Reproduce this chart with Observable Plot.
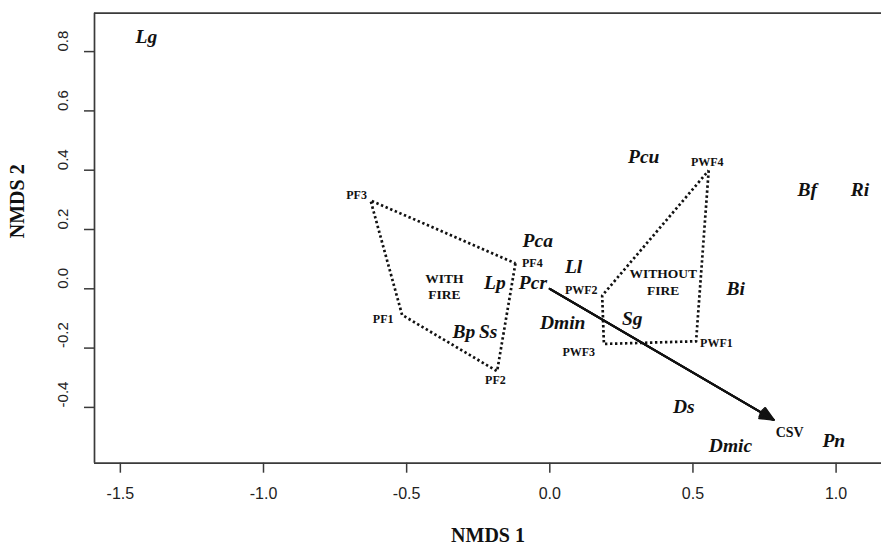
<!DOCTYPE html>
<html>
<head>
<meta charset="utf-8">
<script src="https://cdn.jsdelivr.net/npm/d3@7"></script>
<script src="https://cdn.jsdelivr.net/npm/@observablehq/plot@0.6"></script>
<style>
  html, body { margin: 0; padding: 0; background: #fff; overflow: hidden; }
</style>
</head>
<body>
<div id="chart"></div>
<script>
// Species scores (NMDS 1, NMDS 2)
const speciesNames = ["Lg","Pcu","Bf","Ri","Pca","Ll","Lp","Pcr","Bi","Sg","Dmin","Bp","Ss","Ds","Dmic","Pn"];
const speciesX = [-1.409, 0.328, 0.899, 1.083, -0.042, 0.083, -0.192, -0.059, 0.649, 0.288, 0.045, -0.300, -0.215, 0.468, 0.631, 0.992];
const speciesY = [0.849, 0.444, 0.334, 0.334, 0.163, 0.073, 0.022, 0.019, 0.000, -0.101, -0.116, -0.146, -0.146, -0.397, -0.528, -0.512];

// Site scores
const siteNames = ["PF1","PF2","PF3","PF4","PWF1","PWF2","PWF3","PWF4"];
const siteGroup = ["WITH\nFIRE","WITH\nFIRE","WITH\nFIRE","WITH\nFIRE","WITHOUT\nFIRE","WITHOUT\nFIRE","WITHOUT\nFIRE","WITHOUT\nFIRE"];
const siteX = [-0.516, -0.184, -0.626, -0.120, 0.511, 0.183, 0.189, 0.555];
const siteY = [-0.088, -0.278, 0.298, 0.086, -0.177, -0.023, -0.186, 0.399];
// Site label positions
const siteLabelX = [-0.582, -0.190, -0.675, -0.061, 0.582, 0.110, 0.101, 0.550];
const siteLabelY = [-0.101, -0.307, 0.317, 0.088, -0.185, -0.006, -0.214, 0.427];

// Group label positions
const groupNames = ["WITH\nFIRE", "WITHOUT\nFIRE"];
const groupX = [-0.368, 0.396];
const groupY = [0.011, 0.025];

// Environmental vector
const vectorName = ["CSV"];
const vectorX = [0.782];
const vectorY = [-0.442];
const vectorLabelX = [0.838];
const vectorLabelY = [-0.484];

// Axes
const xTicks = [-1.5, -1.0, -0.5, 0.0, 0.5, 1.0];
const yTicks = [-0.4, -0.2, 0.0, 0.2, 0.4, 0.6, 0.8];
const xDomain = [-1.5903, 1.1586];
const yDomain = [-0.5882, 0.9295];
const xTitle = "NMDS 1";
const yTitle = "NMDS 2";

// Build tables
const species = speciesNames.map((n, i) => ({name: n, x: speciesX[i], y: speciesY[i]}));
const sites = siteNames.map((n, i) => ({name: n, group: siteGroup[i], x: siteX[i], y: siteY[i], lx: siteLabelX[i], ly: siteLabelY[i]}));
const groups = groupNames.map((g, i) => ({name: g, x: groupX[i], y: groupY[i]}));
const vectors = vectorName.map((n, i) => ({name: n, x: vectorX[i], y: vectorY[i], lx: vectorLabelX[i], ly: vectorLabelY[i]}));

// Convex hull per group (closed path)
const hulls = [];
for (const g of groupNames) {
  const pts = sites.filter(s => s.group === g).map(s => [s.x, s.y]);
  const hull = d3.polygonHull(pts);
  hull.push(hull[0]);
  hull.forEach(p => hulls.push({group: g, x: p[0], y: p[1]}));
}

const serif = "'Liberation Serif', 'Times New Roman', serif";
const sans = "'Liberation Sans', Arial, sans-serif";
const axisColor = "#3a3a3a";

// arrow head drawn as several nested V's so it reads as a filled head
const headAngles = [12, 24, 36, 48];

const chart = Plot.plot({
  width: 881,
  height: 550,
  marginLeft: 94,
  marginRight: 0,
  marginTop: 12.7,
  marginBottom: 87.3,
  style: {background: "#fff", fontFamily: sans},
  x: {domain: xDomain, axis: null},
  y: {domain: yDomain, axis: null},
  marks: [
    // box (left, top, bottom)
    Plot.ruleY([yDomain[0], yDomain[1]], {stroke: axisColor, strokeWidth: 1.7}),
    Plot.ruleX([xDomain[0]], {stroke: axisColor, strokeWidth: 1.7}),
    // ticks
    Plot.axisX(xTicks, {tickSize: 10, tickFormat: () => "", label: null, stroke: axisColor, strokeWidth: 1.5}),
    Plot.axisY(yTicks, {tickSize: 10, tickFormat: () => "", label: null, stroke: axisColor, strokeWidth: 1.5}),
    // tick labels
    Plot.text(xTicks, {x: d => d, frameAnchor: "bottom", dy: 35.3, text: d => d.toFixed(1), fontSize: 16, fontFamily: sans, fill: "#222"}),
    Plot.text(yTicks, {y: d => d, frameAnchor: "left", dx: -31.5, rotate: -90, text: d => d.toFixed(1), fontSize: 15, fontFamily: sans, fill: "#222"}),
    // axis titles
    Plot.text([xTitle], {frameAnchor: "bottom", dy: 78.8, text: d => d, fontSize: 20, fontWeight: "bold", fontFamily: serif, fill: "#111"}),
    Plot.text([yTitle], {frameAnchor: "left", dx: -76.5, rotate: -90, text: d => d, fontSize: 20, fontWeight: "bold", fontFamily: serif, fill: "#111"}),
    // hulls
    Plot.line(hulls, {x: "x", y: "y", z: "group", stroke: "#111", strokeWidth: 2.7, strokeDasharray: "2.4,2.6", strokeLinecap: "butt"}),
    // vector
    ...headAngles.map(a => Plot.arrow(vectors, {x1: () => 0, y1: () => 0, x2: "x", y2: "y", stroke: "#111", strokeWidth: 2, headLength: 11, headAngle: a})),
    Plot.text(vectors, {x: "lx", y: "ly", text: "name", fontSize: 14, fontWeight: "bold", fontFamily: serif, fill: "#111"}),
    // site labels
    Plot.text(sites, {x: "lx", y: "ly", text: "name", fontSize: 12, fontWeight: "bold", fontFamily: serif, fill: "#111"}),
    // group labels
    Plot.text(groups, {x: "x", y: "y", text: "name", fontSize: 13.5, fontWeight: "bold", fontFamily: serif, fill: "#111", lineHeight: 1.25}),
    // species labels
    Plot.text(species, {x: "x", y: "y", text: "name", fontSize: 19.5, fontWeight: "bold", fontStyle: "italic", fontFamily: serif, fill: "#111"})
  ]
});
document.getElementById("chart").appendChild(chart);
</script>
</body>
</html>
